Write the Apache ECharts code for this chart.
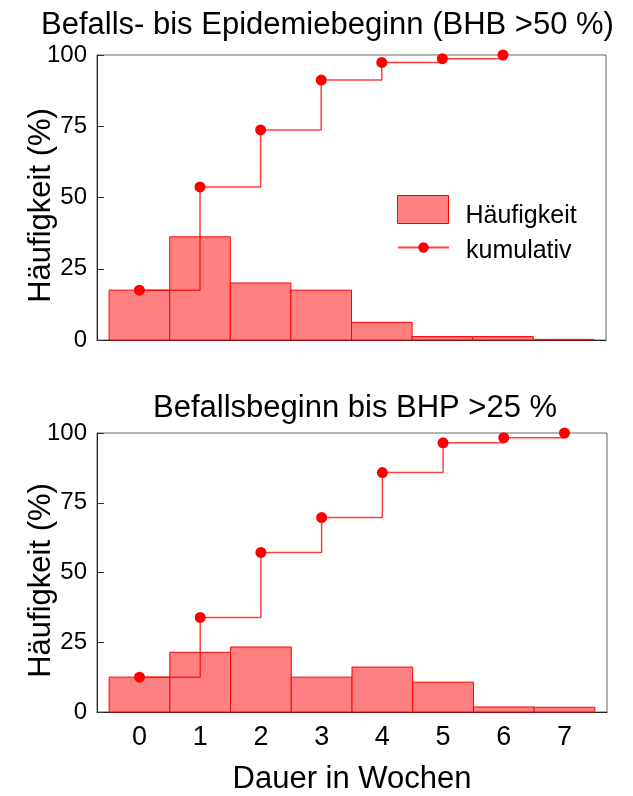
<!DOCTYPE html>
<html>
<head>
<meta charset="utf-8">
<script src="https://cdn.jsdelivr.net/npm/echarts@6/dist/echarts.min.js"></script>
<style>
  html, body { margin: 0; padding: 0; background: #fff; }
  #chart { width: 633px; height: 796px; }
</style>
</head>
<body>
<div id="chart"></div>
<script>
// Duration in weeks (x categories)
const weeks = [0, 1, 2, 3, 4, 5, 6, 7];

// Panel 1: infestation onset to epidemic onset (BHB > 50 %)
const freqEpidemic = [17.5, 36.2, 20.0, 17.5, 6.2, 1.2, 1.2, 0.2];
const cumEpidemic = [17.5, 53.7, 73.7, 91.2, 97.4, 98.7, 100.0];

// Panel 2: infestation onset to BHP > 25 %
const freqBHP = [12.5, 21.4, 23.3, 12.5, 16.1, 10.7, 1.8, 1.7];
const cumBHP = [12.5, 33.9, 57.2, 69.7, 85.8, 96.5, 98.3, 100.0];

const titles = ['Befalls- bis Epidemiebeginn (BHB >50 %)', 'Befallsbeginn bis BHP >25 %'];
const yName = 'Häufigkeit (%)';
const xName = 'Dauer in Wochen';
const nameFreq = 'Häufigkeit';
const nameCum = 'kumulativ';

const FONT = '"Liberation Sans", Arial, sans-serif';
const BAR_FILL = '#ff8080';
const BAR_EDGE = '#ff0000';

const pairs = (xs, ys) => ys.map((v, i) => [xs[i], v]);

// Histogram bars: one week wide, centred on each week
function renderBin(params, api) {
  const x = api.value(0);
  const y = api.value(1);
  const a = api.coord([x - 0.5, y]);
  const b = api.coord([x + 0.5, 0]);
  return {
    type: 'rect',
    shape: { x: a[0], y: a[1], width: b[0] - a[0], height: b[1] - a[1] },
    style: { fill: BAR_FILL, stroke: BAR_EDGE, lineWidth: 1 }
  };
}

function yAxis(gridIndex) {
  return {
    type: 'value', gridIndex, min: 0, max: 100, interval: 25,
    name: yName, nameLocation: 'middle', nameGap: 40, nameMoveOverlap: false,
    nameTextStyle: { fontFamily: FONT, fontSize: 31, color: '#000', padding: [0, 16, 0, 0] },
    axisLine: { show: true, onZero: false, lineStyle: { color: '#222', width: 1 } },
    axisTick: { show: true, inside: true, length: 7, lineStyle: { color: '#333' } },
    axisLabel: { fontFamily: FONT, fontSize: 24, color: '#000', margin: 10 },
    splitLine: { show: false }
  };
}

// Week labels sit on whole numbers; the axis runs a little past the outer bins
function weekLabel(v) {
  const r = Math.round(v * 10) / 10;
  return weeks.includes(r) ? String(r) : '';
}

function xAxis(gridIndex, withLabels) {
  const ax = {
    type: 'value', gridIndex, min: -0.7, max: 7.7, interval: 0.1,
    axisLine: { show: true, onZero: false, lineStyle: { color: '#222', width: 1 } },
    axisTick: { show: false },
    splitLine: { show: false },
    axisLabel: {
      show: withLabels, fontFamily: FONT, fontSize: 27, color: '#000', margin: 12,
      formatter: weekLabel
    }
  };
  if (withLabels) {
    ax.name = xName;
    ax.nameLocation = 'middle';
    ax.nameGap = 52;
    ax.nameMoveOverlap = false;
    ax.nameTextStyle = { fontFamily: FONT, fontSize: 31, color: '#000' };
  }
  return ax;
}

function cumLine(name, xi, yi, data) {
  return {
    name, type: 'line', xAxisIndex: xi, yAxisIndex: yi, data,
    step: 'end', symbol: 'circle', symbolSize: 11,
    itemStyle: { color: '#ff0000' },
    lineStyle: { color: 'rgba(255,0,0,0.75)', width: 1.5 },
    z: 5, animation: false
  };
}

function bins(name, xi, yi, data) {
  return {
    name, type: 'custom', xAxisIndex: xi, yAxisIndex: yi,
    data, renderItem: renderBin, encode: { x: 0, y: 1 },
    itemStyle: { color: BAR_FILL, borderColor: BAR_EDGE, borderWidth: 1 },
    z: 2, animation: false
  };
}

// Legend entry text, nudged to sit slightly below the middle of its key
function legendText(dropPx) {
  return {
    fontFamily: FONT, fontSize: 25, color: '#000',
    rich: { t: { fontFamily: FONT, fontSize: 25, color: '#000', padding: [dropPx * 2, 0, 0, 12] } }
  };
}

const chart = echarts.init(document.getElementById('chart'), null, { renderer: 'canvas' });

chart.setOption({
  backgroundColor: '#fff',
  animation: false,
  textStyle: { fontFamily: FONT },
  title: [
    { text: titles[0], left: 41, top: 10, padding: 0,
      textStyle: { fontFamily: FONT, fontSize: 31, fontWeight: 'normal', color: '#000' } },
    { text: titles[1], left: 153, top: 393, padding: 0,
      textStyle: { fontFamily: FONT, fontSize: 31, fontWeight: 'normal', color: '#000' } }
  ],
  legend: [
    { data: [{ name: nameFreq, icon: 'rect' }], left: 397, top: 195, orient: 'vertical',
      padding: 0, itemWidth: 51, itemHeight: 28, selectedMode: false,
      formatter: '{t|{name}}',
      itemStyle: { color: BAR_FILL, borderColor: BAR_EDGE, borderWidth: 1 },
      textStyle: legendText(7) },
    { data: [nameCum], left: 397, top: 239, orient: 'vertical',
      padding: 0, itemWidth: 51, itemHeight: 13, selectedMode: false,
      formatter: '{t|{name}}',
      textStyle: legendText(4) }
  ],
  grid: [
    { left: 97, top: 55, width: 509, height: 285, show: true, borderColor: '#666', borderWidth: 1 },
    { left: 97, top: 433, width: 510, height: 279, show: true, borderColor: '#666', borderWidth: 1 }
  ],
  xAxis: [xAxis(0, false), xAxis(1, true)],
  yAxis: [yAxis(0), yAxis(1)],
  series: [
    bins(nameFreq, 0, 0, pairs(weeks, freqEpidemic)),
    cumLine(nameCum, 0, 0, pairs(weeks, cumEpidemic)),
    bins(nameFreq, 1, 1, pairs(weeks, freqBHP)),
    cumLine(nameCum, 1, 1, pairs(weeks, cumBHP))
  ]
});
</script>
</body>
</html>
